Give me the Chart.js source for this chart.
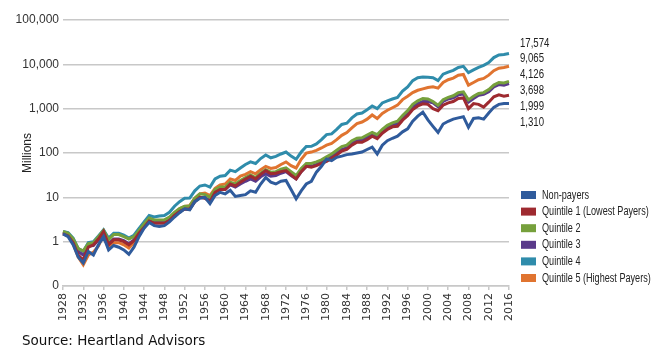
<!DOCTYPE html>
<html>
<head>
<meta charset="utf-8">
<script src="https://cdn.jsdelivr.net/npm/chart.js@4.4.1/dist/chart.umd.min.js"></script>
<style>
  html, body { margin: 0; padding: 0; background: #fff; }
</style>
</head>
<body>
<canvas id="chart" width="662" height="364"></canvas>
<script>
const years = [
  1928, 1929, 1930, 1931, 1932, 1933, 1934, 1935, 1936, 1937,
  1938, 1939, 1940, 1941, 1942, 1943, 1944, 1945, 1946, 1947,
  1948, 1949, 1950, 1951, 1952, 1953, 1954, 1955, 1956, 1957,
  1958, 1959, 1960, 1961, 1962, 1963, 1964, 1965, 1966, 1967,
  1968, 1969, 1970, 1971, 1972, 1973, 1974, 1975, 1976, 1977,
  1978, 1979, 1980, 1981, 1982, 1983, 1984, 1985, 1986, 1987,
  1988, 1989, 1990, 1991, 1992, 1993, 1994, 1995, 1996, 1997,
  1998, 1999, 2000, 2001, 2002, 2003, 2004, 2005, 2006, 2007,
  2008, 2009, 2010, 2011, 2012, 2013, 2014, 2015, 2016
];

// growth of $1 (millions)
const nonPayers = [
  1.5, 1.3, 0.85, 0.45, 0.33, 0.6, 0.5, 0.85, 1.3, 0.65,
  0.82, 0.75, 0.65, 0.52, 0.75, 1.3, 2.0, 2.7, 2.3, 2.2,
  2.3, 2.8, 3.6, 4.5, 5.5, 5.2, 8.0, 9.5, 10, 7.2,
  11, 13, 12, 14.5, 10.5, 11, 11.5, 14, 13, 20,
  28, 22, 20, 23, 24, 15, 9.3, 14, 20, 23,
  37, 50, 73, 67, 80, 85, 92, 95, 100, 105,
  120, 135, 95, 150, 190, 215, 240, 300, 350, 520,
  680, 830, 560, 400, 290, 450, 520, 580, 620, 660,
  380, 600, 620, 580, 800, 1070, 1250, 1300, 1310
];
const quintile1 = [
  1.5, 1.35, 0.95, 0.5, 0.38, 0.75, 0.85, 1.15, 1.7, 0.85,
  1.1, 1.1, 1.0, 0.85, 1.05, 1.55, 2.1, 2.9, 2.6, 2.6,
  2.6, 3.0, 3.9, 4.8, 5.4, 5.4, 8.0, 10, 9.5, 8.0,
  13, 15, 15, 20, 18, 22, 26, 30, 26, 33,
  40, 34, 35, 38, 40, 32, 26, 38, 50, 48,
  52, 58, 65, 75, 90, 110, 120, 150, 175, 175,
  200, 240, 210, 280, 340, 390, 400, 550, 690, 950,
  1150, 1290, 1250, 1000, 900, 1200, 1350, 1450, 1700, 1750,
  1000, 1300, 1250, 1080, 1400, 1850, 2050, 1900, 1999
];
const quintile2 = [
  1.7, 1.55, 1.15, 0.7, 0.62, 0.9, 0.95, 1.3, 1.8, 1.1,
  1.45, 1.45, 1.3, 1.15, 1.3, 1.8, 2.5, 3.4, 3.1, 3.1,
  3.1, 3.6, 4.6, 5.6, 6.3, 6.4, 9.5, 12, 11.5, 10,
  15, 17, 17, 22, 20, 24, 28, 32, 28, 35,
  42, 37, 38, 43, 46, 38, 31, 45, 58, 58,
  63, 70, 82, 95, 115, 140, 150, 190, 215, 220,
  255, 290, 260, 340, 420, 480, 520, 700, 900, 1250,
  1500, 1700, 1650, 1450, 1200, 1600, 1800, 1950, 2300, 2400,
  1580, 1900, 2200, 2300, 2700, 3400, 3900, 3800, 4126
];
const quintile3 = [
  1.6, 1.45, 1.05, 0.6, 0.5, 0.8, 0.82, 1.1, 1.6, 0.9,
  1.15, 1.15, 1.05, 0.9, 1.1, 1.6, 2.2, 3.0, 2.7, 2.7,
  2.7, 3.1, 4.0, 4.9, 5.5, 5.5, 8.0, 10, 9.8, 8.5,
  13, 15, 15, 19, 17, 20, 23, 26, 23, 29,
  34, 30, 31, 35, 38, 31, 26, 38, 50, 50,
  55, 62, 72, 82, 100, 120, 130, 165, 190, 195,
  225, 270, 240, 320, 390, 440, 460, 640, 800, 1100,
  1300, 1450, 1450, 1350, 1100, 1450, 1650, 1750, 2050, 2150,
  1400, 1700, 2000, 2100, 2400, 3100, 3500, 3400, 3698
];
const quintile4 = [
  1.7, 1.6, 1.2, 0.7, 0.6, 0.95, 1.0, 1.35, 1.85, 1.2,
  1.55, 1.55, 1.4, 1.2, 1.4, 2.0, 2.8, 3.9, 3.6, 3.8,
  3.9, 4.6, 6.3, 8.0, 9.5, 9.6, 14, 18, 19, 17,
  26, 30, 31, 41, 38, 46, 55, 63, 58, 75,
  90, 78, 84, 95, 105, 85, 72, 105, 140, 142,
  160, 200, 260, 270, 340, 440, 470, 620, 760, 800,
  950, 1150, 1000, 1350, 1500, 1650, 1800, 2500, 3100, 4300,
  5000, 5200, 5100, 5000, 4300, 6000, 6700, 7300, 8500, 9000,
  6500, 7500, 8500, 9500, 11000, 14200, 16300, 16600, 17574
];
const quintile5 = [
  1.6, 1.4, 0.9, 0.45, 0.3, 0.5, 0.58, 0.8, 1.45, 0.7,
  0.95, 0.95, 0.85, 0.72, 0.95, 1.5, 2.2, 3.0, 2.7, 2.7,
  2.9, 3.4, 4.5, 5.5, 6.2, 6.5, 9.5, 12, 12.5, 11,
  16, 19, 20, 26, 24, 30, 33, 38, 34, 42,
  50, 45, 47, 55, 63, 52, 46, 72, 100, 105,
  115, 130, 150, 165, 200, 250, 290, 370, 460, 500,
  580, 720, 600, 780, 920, 1050, 1200, 1600, 1900, 2300,
  2600, 2800, 3000, 3100, 2900, 3900, 4500, 4900, 5700, 5900,
  3400, 3900, 4500, 4800, 5700, 7200, 8200, 8500, 9065
];

const seriesNames = ['Non-payers', 'Quintile 1 (Lowest Payers)', 'Quintile 2', 'Quintile 3', 'Quintile 4', 'Quintile 5 (Highest Payers)'];
const seriesData = [nonPayers, quintile1, quintile2, quintile3, quintile4, quintile5];
const seriesColors = ['#2f5b9c', '#9e2a30', '#76a03c', '#5a3a8a', '#2f8cab', '#e07430'];
const endLabels = ['17,574', '9,065', '4,126', '3,698', '1,999', '1,310'];
const yTicks = [0.1, 1, 10, 100, 1000, 10000, 100000];
const sourceNote = 'Source: Heartland Advisors';

const SANS = '"Liberation Sans", Arial, sans-serif';

// no narrow font installed, so squeeze the side texts horizontally
function narrowText(ctx, text, x, y, squeeze) {
  ctx.save();
  ctx.translate(x, y);
  ctx.scale(squeeze, 1);
  ctx.fillText(text, 0, 0);
  ctx.restore();
}

const extras = {
  id: 'extras',
  afterDraw(chart) {
    const ctx = chart.ctx;
    ctx.save();
    ctx.textBaseline = 'middle';
    ctx.font = '13px ' + SANS;
    ctx.fillStyle = '#222';
    endLabels.forEach((t, i) => narrowText(ctx, t, 520, 43 + i * 15.8, 0.74));

    seriesNames.forEach((name, i) => {
      const y = 195 + i * 16.6;
      ctx.fillStyle = seriesColors[i];
      ctx.fillRect(521, y - 4, 15, 8);
      ctx.fillStyle = '#222';
      narrowText(ctx, name, 542, y, 0.7);
    });

    ctx.font = '13.5px "DejaVu Sans", Verdana, sans-serif';
    ctx.fillStyle = '#111';
    ctx.fillText(sourceNote, 22, 341);
    ctx.restore();
  }
};

new Chart(document.getElementById('chart'), {
  type: 'line',
  data: {
    labels: years,
    datasets: seriesNames.map((name, i) => ({
      label: name,
      data: seriesData[i],
      borderColor: seriesColors[i],
      backgroundColor: seriesColors[i],
      borderWidth: 3,
      pointRadius: 0,
      tension: 0,
      fill: false,
    })),
  },
  options: {
    responsive: false,
    animation: false,
    layout: { padding: { left: 0, right: 153, top: 20, bottom: 0 } },
    plugins: { legend: { display: false }, tooltip: { enabled: false } },
    scales: {
      x: {
        afterFit(scale) { scale.height = 78; },
        grid: { drawOnChartArea: false, drawTicks: true, tickLength: 4, color: '#c8c8c8', lineWidth: 1.5 },
        border: { color: '#c8c8c8', width: 1.5 },
        ticks: {
          autoSkip: false,
          minRotation: 90,
          maxRotation: 90,
          padding: 3,
          color: '#333',
          font: { family: '"DejaVu Sans", Verdana, sans-serif', size: 11 },
          callback(v, i) {
            const y = years[i];
            return (y - 1928) % 4 === 0 ? String(y) : null;
          },
        },
      },
      y: {
        type: 'logarithmic',
        min: 0.1,
        max: 100000,
        afterBuildTicks(scale) { scale.ticks = yTicks.map(v => ({ value: v })); },
        afterFit(scale) { scale.width = 63; },
        grid: { color: '#c8c8c8', lineWidth: 1.5, drawTicks: false },
        border: { display: false },
        ticks: {
          padding: 4,
          color: '#333',
          font: { family: SANS, size: 12 },
          callback: v => (v < 1 ? '0' : Number(v).toLocaleString('en-US')),
        },
        title: {
          display: true,
          text: 'Millions',
          color: '#222',
          font: { family: SANS, size: 12 },
          padding: { top: 20, bottom: 0 },
        },
      },
    },
  },
  plugins: [extras],
});
</script>
</body>
</html>
